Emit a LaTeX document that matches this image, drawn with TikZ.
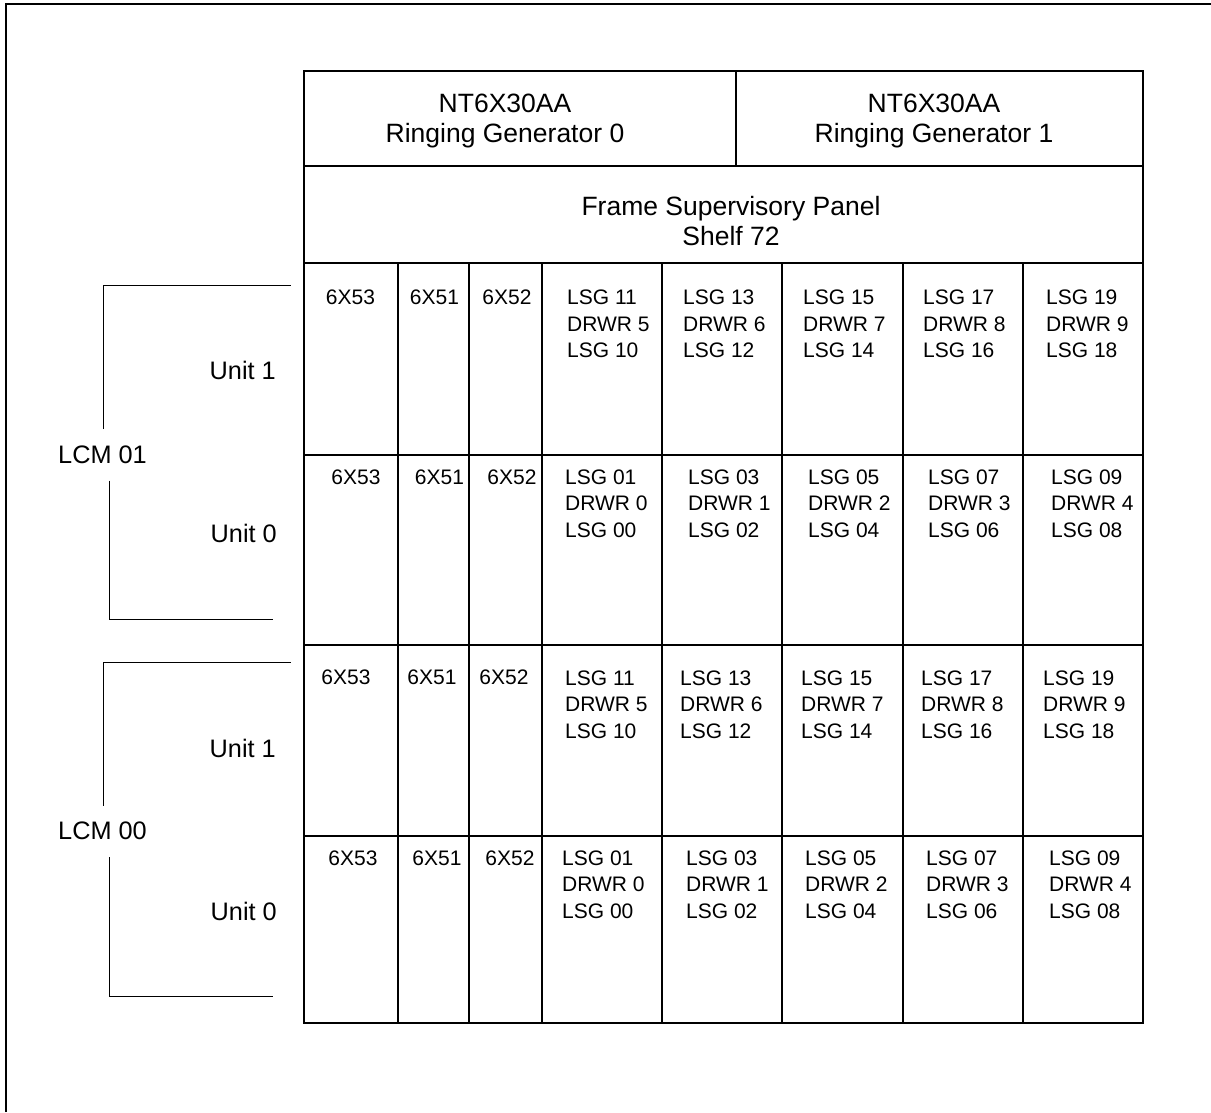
\documentclass[tikz,border=0pt]{standalone}
\usepackage{fontspec}
\setmainfont{Liberation Sans}
\begin{document}
\begin{tikzpicture}[x=1pt,y=-1pt,
  frame/.style={line width=1.6pt},
  gridline/.style={line width=2pt},
  bracket/.style={line width=1pt},
  title/.style={inner sep=0pt,align=center,font=\fontsize{26.5}{30}\selectfont},
  side/.style={inner sep=0pt,font=\fontsize{25.3}{30}\selectfont},
  card/.style={inner sep=0pt,font=\fontsize{21}{26.7}\selectfont},
  blk/.style={inner sep=0pt,anchor=west,align=left,font=\fontsize{21}{26.7}\selectfont}]
\useasboundingbox (0,0) rectangle (1211,1112);

% page frame (top and left edges)
\draw[frame] (6,1112) -- (6,4) -- (1211,4);

% shelf outline and grid
\draw[gridline] (304,71) rectangle (1143,1023);
\foreach \yy in {166,263,455,645,836} \draw[gridline] (304,\yy) -- (1143,\yy);
\draw[gridline] (736,71) -- (736,166);
\foreach \xx in {398,469,542,662,782,903,1023} \draw[gridline] (\xx,263) -- (\xx,1023);

% header panels
\node[title] (rg0) at (505,120.5) {NT6X30AA\\Ringing Generator 0};
\node[title] (rg1) at (934,120.5) {NT6X30AA\\Ringing Generator 1};
\node[title] (fsp) at (731,221) {Frame Supervisory Panel\\Shelf 72};

% LCM 01, unit 1
\foreach \xx/\t [count=\i] in {350.5/6X53,434.5/6X51,507/6X52}
  \node[card] (ua\i) at (\xx,297.5) {\t};
\foreach \xx/\p/\d/\q [count=\i] in {567/11/5/10,683/13/6/12,803/15/7/14,923/17/8/16,1046/19/9/18}
  \node[blk] (la\i) at (\xx,324) {LSG \p\\DRWR \d\\LSG \q};

% LCM 01, unit 0
\foreach \xx/\t [count=\i] in {356/6X53,439.5/6X51,512/6X52}
  \node[card] (ub\i) at (\xx,477) {\t};
\foreach \xx/\p/\d/\q [count=\i] in {565/01/0/00,688/03/1/02,808/05/2/04,928/07/3/06,1051/09/4/08}
  \node[blk] (lb\i) at (\xx,503.5) {LSG \p\\DRWR \d\\LSG \q};

% LCM 00, unit 1
\foreach \xx/\t [count=\i] in {346/6X53,432/6X51,504/6X52}
  \node[card] (uc\i) at (\xx,677.5) {\t};
\foreach \xx/\p/\d/\q [count=\i] in {565/11/5/10,680/13/6/12,801/15/7/14,921/17/8/16,1043/19/9/18}
  \node[blk] (lc\i) at (\xx,704.5) {LSG \p\\DRWR \d\\LSG \q};

% LCM 00, unit 0
\foreach \xx/\t [count=\i] in {353/6X53,437/6X51,510/6X52}
  \node[card] (ud\i) at (\xx,858) {\t};
\foreach \xx/\p/\d/\q [count=\i] in {562/01/0/00,686/03/1/02,805/05/2/04,926/07/3/06,1049/09/4/08}
  \node[blk] (ld\i) at (\xx,884.5) {LSG \p\\DRWR \d\\LSG \q};

% unit and LCM labels
\node[side,anchor=east] (u11) at (276,370) {Unit 1};
\node[side,anchor=east] (u10) at (277,533.5) {Unit 0};
\node[side,anchor=west] (lcm01) at (58,454.3) {LCM 01};
\node[side,anchor=east] (u01) at (276,748.3) {Unit 1};
\node[side,anchor=east] (u00) at (277,911.7) {Unit 0};
\node[side,anchor=west] (lcm00) at (58,831) {LCM 00};

% brackets grouping the units of each LCM
\coordinate (b1a) at (103,429);
\coordinate (b1b) at (103,285.7);
\coordinate (b1c) at (291,285.7);
\coordinate (b1d) at (109,480.7);
\coordinate (b1e) at (109,619);
\coordinate (b1f) at (273,619);
\draw[bracket] (b1a) -- (b1b) -- (b1c);
\draw[bracket] (b1d) -- (b1e) -- (b1f);

\coordinate (b0a) at (103,805.7);
\coordinate (b0b) at (103,662.7);
\coordinate (b0c) at (291,662.7);
\coordinate (b0d) at (109,857);
\coordinate (b0e) at (109,996);
\coordinate (b0f) at (273,996);
\draw[bracket] (b0a) -- (b0b) -- (b0c);
\draw[bracket] (b0d) -- (b0e) -- (b0f);
\end{tikzpicture}
\end{document}
